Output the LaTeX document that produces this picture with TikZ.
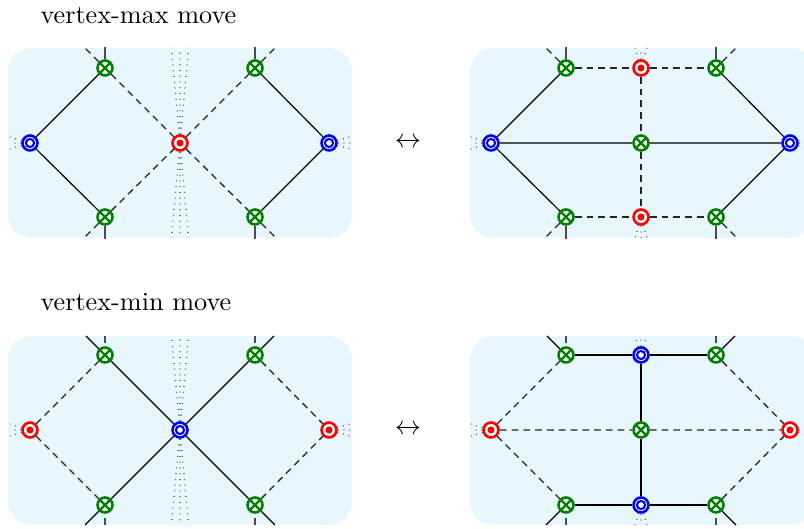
\documentclass[tikz,border=0pt]{standalone}
\begin{document}
\definecolor{panel}{RGB}{232,246,254}
\definecolor{xgreen}{RGB}{0,128,0}
\begin{tikzpicture}[x=0.3817pt,y=-0.3817pt,
  vtx/.style={circle, minimum size=5.7pt, inner sep=0pt, line width=1pt, fill=white},
  gx/.style={vtx, draw=xgreen, path picture={\draw[xgreen,line width=0.9pt]
     (path picture bounding box.north west)--(path picture bounding box.south east)
     (path picture bounding box.north east)--(path picture bounding box.south west);}},
  rd/.style={vtx, draw=red, path picture={\fill[red] (path picture bounding box.center) circle (1.35pt);}},
  bl/.style={vtx, draw=blue, path picture={\draw[blue,line width=0.8pt] (path picture bounding box.center) circle (1.55pt);}},
  solidE/.style={black, line width=0.45pt},
  dashE/.style={black!85, line width=0.5pt, dash pattern=on 2.6pt off 1.9pt},
  dotE/.style={black!80, line width=0.45pt, dash pattern=on 0.3pt off 1.9pt},
  stubE/.style={black!70, line width=0.55pt},
  panelbox/.style={fill=panel, rounded corners=9pt}
]
\useasboundingbox (0,0) rectangle (804,529);

% panels
\path[panelbox] (8,48) rectangle (352,238);
\path[panelbox] (470,48) rectangle (813,238);
\path[panelbox] (8,336) rectangle (352,525);
\path[panelbox] (470,336) rectangle (813,525);

% titles and arrows
\node[anchor=base west, inner sep=0pt] (t1) at (40,23.5) {vertex-max move};
\node[anchor=base west, inner sep=0pt] (t2) at (40,311) {vertex-min move};
\node (ar1) at (408,143) {$\leftrightarrow$};
\node (ar2) at (408,430) {$\leftrightarrow$};

% ---------- panel A (top-left)
\node[bl] (A1) at (30,143) {};
\node[gx] (A2) at (105,68) {};
\node[gx] (A3) at (105,217) {};
\node[rd] (A4) at (180,143) {};
\node[gx] (A5) at (255,68) {};
\node[gx] (A6) at (255,217) {};
\node[bl] (A7) at (329,143) {};
\draw[solidE] (A1) -- (A2) (A1) -- (A3) (A5) -- (A7) (A6) -- (A7);
\draw[dashE] (A2) -- (A4) (A3) -- (A4) (A4) -- (A5) (A4) -- (A6);
\draw[stubE] (A2) -- (105,47) (A3) -- (105,239) (A5) -- (255,47) (A6) -- (255,239);
\draw[dashE] (A2) -- (85,48) (A3) -- (84,238) (A5) -- (275,48) (A6) -- (276,238);
\draw[dotE] (A4) -- (171.5,48) (A4) -- (180,48) (A4) -- (188.5,48)
            (A4) -- (171.5,238) (A4) -- (180,238) (A4) -- (188.5,238);
\draw[dotE] (A1) -- (10,137) (A1) -- (10,143) (A1) -- (10,149)
            (A7) -- (350,137) (A7) -- (350,143) (A7) -- (350,149);

% ---------- panel B (top-right)
\node[bl] (B1) at (491,143) {};
\node[gx] (B2) at (566,68) {};
\node[gx] (B3) at (566,217) {};
\node[rd] (B4) at (641,68) {};
\node[gx] (B5) at (641,143) {};
\node[rd] (B6) at (641,217) {};
\node[gx] (B7) at (716,68) {};
\node[gx] (B8) at (716,217) {};
\node[bl] (B9) at (790,143) {};
\draw[solidE] (B1) -- (B2) (B1) -- (B3) (B1) -- (B5) (B5) -- (B9) (B7) -- (B9) (B8) -- (B9);
\draw[dashE] (B2) -- (B4) (B4) -- (B7) (B3) -- (B6) (B6) -- (B8) (B4) -- (B5) (B5) -- (B6);
\draw[stubE] (B2) -- (566,47) (B3) -- (566,239) (B7) -- (716,47) (B8) -- (716,239);
\draw[dashE] (B2) -- (546,48) (B3) -- (545,238) (B7) -- (736,48) (B8) -- (737,238);
\draw[dotE] (B4) -- (635,48) (B4) -- (641,48) (B4) -- (647,48)
            (B6) -- (635,238) (B6) -- (641,238) (B6) -- (647,238);
\draw[dotE] (B1) -- (471,137) (B1) -- (471,143) (B1) -- (471,149)
            (B9) -- (811,137) (B9) -- (811,143) (B9) -- (811,149);

% ---------- panel C (bottom-left)
\node[rd] (C1) at (30,430) {};
\node[gx] (C2) at (105,355) {};
\node[gx] (C3) at (105,505) {};
\node[bl] (C4) at (180,430) {};
\node[gx] (C5) at (255,355) {};
\node[gx] (C6) at (255,505) {};
\node[rd] (C7) at (329,430) {};
\draw[dashE] (C1) -- (C2) (C1) -- (C3) (C5) -- (C7) (C6) -- (C7);
\draw[solidE] (C2) -- (C4) (C3) -- (C4) (C4) -- (C5) (C4) -- (C6);
\draw[solidE] (C2) -- (86,336) (C3) -- (85,525) (C5) -- (274,336) (C6) -- (275,525);
\draw[stubE] (C2) ++(0,-12) -- (105,336) (C3) ++(0,13) -- (105,525)
             (C5) ++(0,-12) -- (255,336) (C6) ++(0,13) -- (255,525);
\draw[dotE] (C4) -- (171.5,336) (C4) -- (180,336) (C4) -- (188.5,336)
            (C4) -- (171.5,525) (C4) -- (180,525) (C4) -- (188.5,525);
\draw[dotE] (C1) -- (10,424) (C1) -- (10,430) (C1) -- (10,436)
            (C7) -- (350,424) (C7) -- (350,430) (C7) -- (350,436);

% ---------- panel D (bottom-right)
\node[rd] (D1) at (491,430) {};
\node[gx] (D2) at (566,355) {};
\node[gx] (D3) at (566,505) {};
\node[bl] (D4) at (641,355) {};
\node[gx] (D5) at (641,430) {};
\node[bl] (D6) at (641,505) {};
\node[gx] (D7) at (716,355) {};
\node[gx] (D8) at (716,505) {};
\node[rd] (D9) at (790,430) {};
\draw[dashE] (D1) -- (D2) (D1) -- (D3) (D1) -- (D5) (D5) -- (D9) (D7) -- (D9) (D8) -- (D9);
\draw[solidE] (D2) -- (D4) (D4) -- (D7) (D3) -- (D6) (D6) -- (D8) (D4) -- (D5) (D5) -- (D6);
\draw[solidE] (D2) -- (547,336) (D3) -- (546,525) (D7) -- (735,336) (D8) -- (736,525);
\draw[stubE] (D2) ++(0,-12) -- (566,336) (D3) ++(0,13) -- (566,525)
             (D7) ++(0,-12) -- (716,336) (D8) ++(0,13) -- (716,525);
\draw[dotE] (D4) -- (635,336) (D4) -- (641,336) (D4) -- (647,336)
            (D6) -- (635,525) (D6) -- (641,525) (D6) -- (647,525);
\draw[dotE] (D1) -- (471,424) (D1) -- (471,430) (D1) -- (471,436)
            (D9) -- (811,424) (D9) -- (811,430) (D9) -- (811,436);
\end{tikzpicture}
\end{document}
